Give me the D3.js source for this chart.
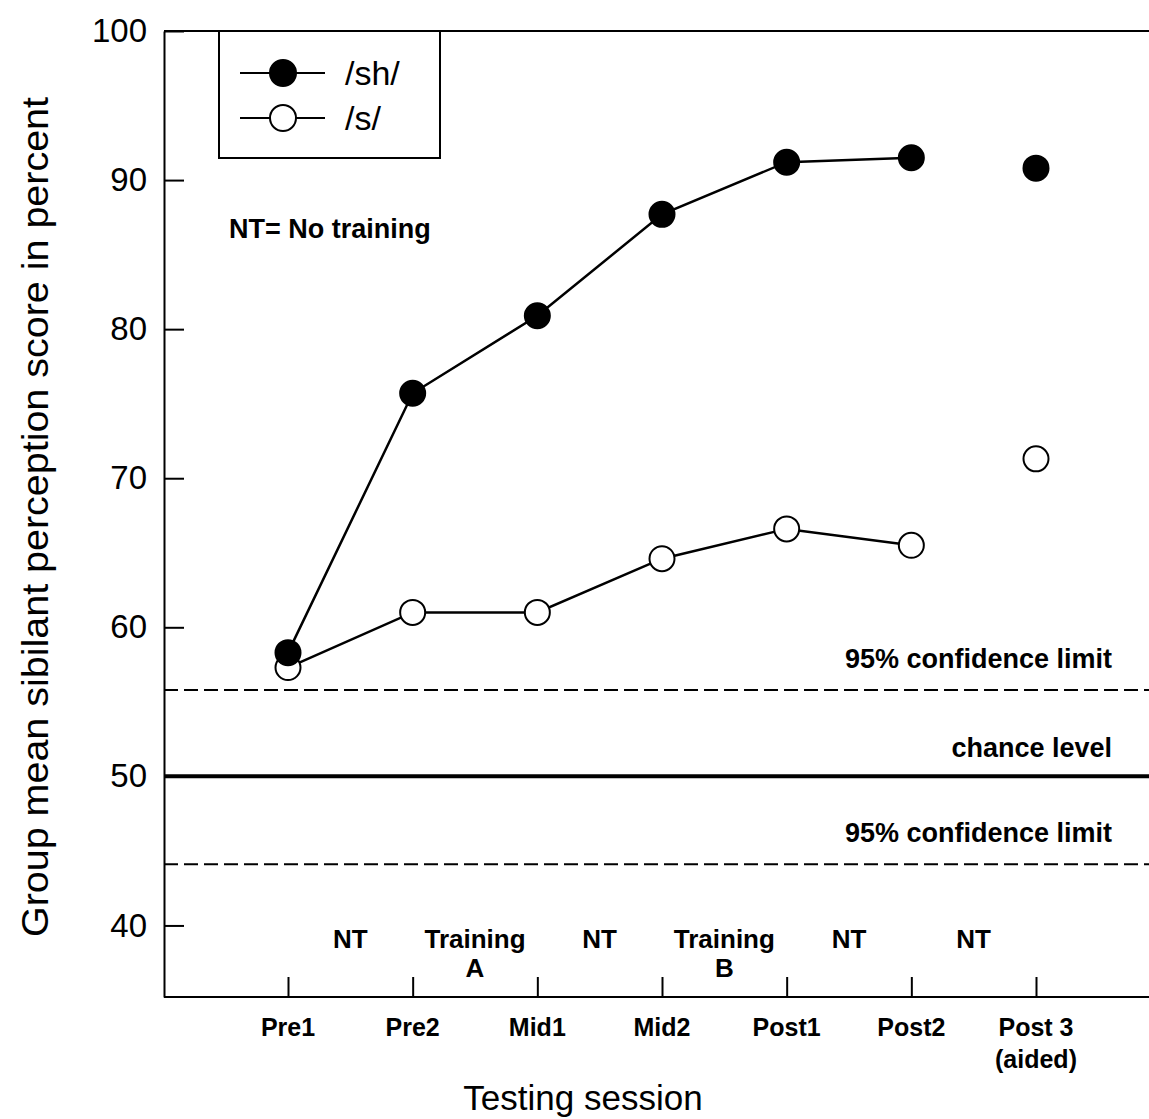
<!DOCTYPE html>
<html>
<head>
<meta charset="utf-8">
<script src="https://cdn.jsdelivr.net/npm/d3@7"></script>
<style>
  body { margin: 0; background: #fff; }
  svg { display: block; }
  .axis path, .axis line { stroke: #000; stroke-width: 2; }
  .axis text { font-family: Arial, "Liberation Sans", sans-serif; fill: #000; }
  .bold { font-family: Arial, "Liberation Sans", sans-serif; font-weight: bold; }
</style>
</head>
<body>
<div id="chart"></div>
<script>
// sessions and scores
const sessions = ["Pre1", "Pre2", "Mid1", "Mid2", "Post1", "Post2", "Post 3"];
const sessionSub = ["", "", "", "", "", "", "(aided)"];
const shScores = [58.3, 75.7, 80.9, 87.7, 91.2, 91.5, 90.8];
const sScores = [57.3, 61.0, 61.0, 64.6, 66.6, 65.5, 71.3];
const shJoined = 6; // Post 3 not joined by the line
const sJoined = 6;
const phases = [["NT"], ["Training", "A"], ["NT"], ["Training", "B"], ["NT"], ["NT"]];
const yTicks = [40, 50, 60, 70, 80, 90, 100];
const chanceLevel = 50;
const upperLimit = 55.8;
const lowerLimit = 44.1;

const svg_width = 1149, svg_height = 1119;
const margin = {left: 164, top: 31, right: 0, bottom: 122};
const width = svg_width - margin.left - margin.right;
const height = svg_height - margin.top - margin.bottom;

const svg = d3.select("#chart").append("svg")
    .attr("width", svg_width)
    .attr("height", svg_height);
const chart = svg.append("g")
    .attr("transform", "translate(" + margin.left + "," + margin.top + ")");

const x = d3.scalePoint().domain(sessions).range([124, 872]);
const y = d3.scaleLinear().domain([35.2, 100]).range([height, 0]);

// frame: top line
chart.append("line")
    .attr("x1", 0).attr("x2", width).attr("y1", 0).attr("y2", 0)
    .attr("stroke", "#000").attr("stroke-width", 2);

// y axis
const yAxis = chart.append("g").attr("class", "axis")
    .call(d3.axisLeft(y).tickValues(yTicks).tickSize(-20).tickSizeOuter(0).tickPadding(17));
yAxis.selectAll("text").style("font-size", "33px");

// x axis
const xAxis = chart.append("g").attr("class", "axis")
    .attr("transform", "translate(0," + height + ")")
    .call(d3.axisBottom(x).tickSize(-20).tickSizeOuter(0).tickFormat(""));
xAxis.select(".domain").attr("d", "M0,0H" + width);

// x labels
sessions.forEach((s, i) => {
    const t = chart.append("text").attr("class", "bold")
        .attr("x", x(s)).attr("y", height + 39)
        .attr("text-anchor", "middle").style("font-size", "25px");
    t.append("tspan").attr("x", x(s)).text(s);
    if (sessionSub[i]) t.append("tspan").attr("x", x(s)).attr("dy", 32).text(sessionSub[i]);
});

// phase labels between sessions
phases.forEach((p, i) => {
    const mx = (x(sessions[i]) + x(sessions[i + 1])) / 2;
    const t = chart.append("text").attr("class", "bold")
        .attr("y", y(40) + 23).attr("text-anchor", "middle").style("font-size", "26px");
    p.forEach((line, j) => {
        t.append("tspan").attr("x", mx).attr("dy", j ? 29 : 0).text(line);
    });
});

// reference lines
chart.append("line")
    .attr("x1", 0).attr("x2", width).attr("y1", y(chanceLevel)).attr("y2", y(chanceLevel))
    .attr("stroke", "#000").attr("stroke-width", 4);
[upperLimit, lowerLimit].forEach(v => {
    chart.append("line")
        .attr("x1", 0).attr("x2", width).attr("y1", y(v)).attr("y2", y(v))
        .attr("stroke", "#000").attr("stroke-width", 2)
        .attr("stroke-dasharray", "14 6");
});
const refLabels = [["95% confidence limit", upperLimit + 2.1], ["chance level", chanceLevel + 1.9], ["95% confidence limit", lowerLimit + 2.1]];
refLabels.forEach(d => {
    chart.append("text").attr("class", "bold")
        .attr("x", 1112 - margin.left).attr("y", y(d[1]) + 9)
        .attr("text-anchor", "end").style("font-size", "27px")
        .text(d[0]);
});

chart.append("text").attr("class", "bold")
    .attr("x", 229 - margin.left).attr("y", 238 - margin.top)
    .style("font-size", "27px").text("NT= No training");

// series
const line = d3.line().x(d => x(d[0])).y(d => y(d[1]));
function drawSeries(scores, joined, fill) {
    const pts = sessions.map((s, i) => [s, scores[i]]);
    chart.append("path").datum(pts.slice(0, joined))
        .attr("d", line).attr("fill", "none")
        .attr("stroke", "#000").attr("stroke-width", 2.5);
    chart.selectAll(null).data(pts).enter().append("circle")
        .attr("cx", d => x(d[0])).attr("cy", d => y(d[1])).attr("r", 12.5)
        .attr("fill", fill).attr("stroke", "#000").attr("stroke-width", 2);
}
drawSeries(sScores, sJoined, "#fff");
drawSeries(shScores, shJoined, "#000");

// legend
const legend = chart.append("g").attr("transform", "translate(" + (219 - margin.left) + ",0)");
legend.append("rect").attr("x", 0).attr("y", 0).attr("width", 221).attr("height", 127)
    .attr("fill", "#fff").attr("stroke", "#000").attr("stroke-width", 2);
[["/sh/", "#000", 42], ["/s/", "#fff", 87]].forEach(d => {
    legend.append("line").attr("x1", 21).attr("x2", 106).attr("y1", d[2]).attr("y2", d[2])
        .attr("stroke", "#000").attr("stroke-width", 2);
    legend.append("circle").attr("cx", 64).attr("cy", d[2]).attr("r", 13)
        .attr("fill", d[1]).attr("stroke", "#000").attr("stroke-width", 2);
    legend.append("text").attr("x", 126).attr("y", d[2] + 12)
        .style("font-family", "Arial, 'Liberation Sans', sans-serif").style("font-size", "34px")
        .text(d[0]);
});

// axis titles
svg.append("text")
    .attr("x", 583).attr("y", 1110).attr("text-anchor", "middle")
    .style("font-family", "Arial, 'Liberation Sans', sans-serif")
    .style("font-size", "35px").text("Testing session");
svg.append("text")
    .attr("transform", "translate(48," + 517 + ") rotate(-90)")
    .attr("text-anchor", "middle")
    .attr("textLength", 840).attr("lengthAdjust", "spacingAndGlyphs")
    .style("font-family", "Arial, 'Liberation Sans', sans-serif")
    .style("font-size", "36px").text("Group mean sibilant perception score in percent");
</script>
</body>
</html>
